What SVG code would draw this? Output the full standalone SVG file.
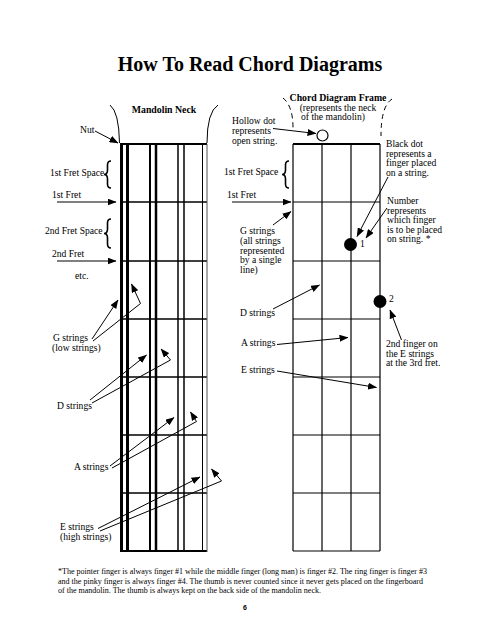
<svg xmlns="http://www.w3.org/2000/svg" width="489" height="631" viewBox="0 0 489 631">
<defs>
<marker id="ah" markerUnits="userSpaceOnUse" markerWidth="9" markerHeight="7" refX="8.5" refY="3.5" orient="auto">
<path d="M0,0 L9,3.5 L0,7 z" fill="#000"/>
</marker>
<style>
text{font-family:"Liberation Serif","Times New Roman",serif;fill:#000;}
.t{font-size:9.6px;}
.b{font-size:9.8px;font-weight:bold;}
.fn{font-size:7.6px;}
.ln{stroke:#000;fill:none;}
.fret{stroke:#000;stroke-width:1.5;}
.cf{stroke:#000;stroke-width:1.2;fill:none;}
.arr{stroke:#000;stroke-width:1;fill:none;marker-end:url(#ah);}
.brace{stroke:#000;stroke-width:1.6;fill:none;}
.dash{stroke:#000;stroke-width:1;fill:none;stroke-dasharray:5 4;}
</style>
</defs>
<rect width="489" height="631" fill="#fff"/>

<g id="title">
<text x="250" y="71" text-anchor="middle" style="font-size:20px;font-weight:bold">How To Read Chord Diagrams</text>
</g>

<g id="mandolin-neck">
<text class="b" x="164" y="113" text-anchor="middle">Mandolin Neck</text>
<path class="ln" d="M110,105 Q119,112 119.5,143" stroke-width="1"/>
<path class="ln" d="M218,105 Q207,112 207,143" stroke-width="1"/>
<line x1="120" y1="144" x2="207" y2="144" stroke="#000" stroke-width="2"/>
<g class="fret">
<line x1="120" y1="202" x2="207" y2="202"/>
<line x1="120" y1="261" x2="207" y2="261"/>
<line x1="120" y1="319" x2="207" y2="319"/>
<line x1="120" y1="377" x2="207" y2="377"/>
<line x1="120" y1="435" x2="207" y2="435"/>
<line x1="120" y1="493" x2="207" y2="493"/>
</g>
<line x1="120" y1="551" x2="207" y2="551" stroke="#000" stroke-width="2"/>
<line x1="121.5" y1="144" x2="121.5" y2="552" stroke="#000" stroke-width="3"/>
<line x1="127.5" y1="144" x2="127.5" y2="552" stroke="#000" stroke-width="3"/>
<line x1="150" y1="144" x2="150" y2="552" stroke="#000" stroke-width="2"/>
<line x1="156" y1="144" x2="156" y2="552" stroke="#000" stroke-width="2.5"/>
<line x1="178" y1="144" x2="178" y2="552" stroke="#000" stroke-width="1.5"/>
<line x1="184" y1="144" x2="184" y2="552" stroke="#000" stroke-width="1.5"/>
<line x1="202.5" y1="144" x2="202.5" y2="552" stroke="#000" stroke-width="1"/>
<line x1="207" y1="144" x2="207" y2="552" stroke="#555" stroke-width="1"/>
</g>

<g id="neck-labels">
<text class="t" x="80" y="133">Nut</text>
<text class="t" x="50" y="176">1st Fret Space</text>
<path class="brace" d="M111,161 Q107.5,161 107.5,165 L107.5,170 Q107.5,174.5 104,174.5 Q107.5,174.5 107.5,179 L107.5,184 Q107.5,188 111,188"/>
<text class="t" x="52" y="198">1st Fret</text>
<text class="t" x="45" y="234">2nd Fret Space</text>
<path class="brace" d="M111,219 Q107.5,219 107.5,223 L107.5,229 Q107.5,233.5 104,233.5 Q107.5,233.5 107.5,238 L107.5,244 Q107.5,248 111,248"/>
<text class="t" x="52" y="257">2nd Fret</text>
<text class="t" x="75" y="279">etc.</text>
<text class="t" x="53" y="341">G strings</text>
<text class="t" x="52" y="351">(low strings)</text>
<text class="t" x="57" y="409">D strings</text>
<text class="t" x="74" y="470">A strings</text>
<text class="t" x="60" y="530">E strings</text>
<text class="t" x="60" y="540">(high strings)</text>
</g>

<g id="chord-frame">
<text class="b" x="338" y="101" text-anchor="middle">Chord Diagram Frame</text>
<text class="t" x="338" y="110.5" text-anchor="middle">(represents the neck</text>
<text class="t" x="333" y="120" text-anchor="middle">of the mandolin)</text>
<path class="dash" d="M283,98 Q293,106 293,128"/>
<path class="dash" d="M392,99 Q381,106 381,136"/>
<line x1="293" y1="144" x2="380" y2="144" stroke="#000" stroke-width="1.8"/>
<g class="cf">
<line x1="293" y1="144" x2="293" y2="551"/>
<line x1="322" y1="144" x2="322" y2="551"/>
<line x1="351" y1="144" x2="351" y2="551"/>
<line x1="380" y1="144" x2="380" y2="551"/>
<line x1="293" y1="202" x2="380" y2="202"/>
<line x1="293" y1="261" x2="380" y2="261"/>
<line x1="293" y1="319" x2="380" y2="319"/>
<line x1="293" y1="377" x2="380" y2="377"/>
<line x1="293" y1="435" x2="380" y2="435"/>
<line x1="293" y1="493" x2="380" y2="493"/>
<line x1="293" y1="551" x2="380" y2="551"/>
</g>
<circle cx="322.5" cy="135.5" r="5.5" fill="#fff" stroke="#000" stroke-width="1.2"/>
<circle cx="350.5" cy="244.5" r="6.5" fill="#000"/>
<circle cx="380" cy="301.5" r="6.5" fill="#000"/>
<text class="t" x="360" y="247">1</text>
<text class="t" x="389" y="302">2</text>
</g>

<g id="chord-labels">
<text class="t" x="232" y="124">Hollow dot</text>
<text class="t" x="232" y="134">represents</text>
<text class="t" x="232" y="143.5">open string.</text>
<text class="t" x="386" y="147">Black dot</text>
<text class="t" x="386" y="156.5">represents a</text>
<text class="t" x="386" y="166">finger placed</text>
<text class="t" x="386" y="175.5">on a string.</text>
<text class="t" x="224" y="175">1st Fret Space</text>
<path class="brace" d="M289,161 Q285.5,161 285.5,165 L285.5,170 Q285.5,174.5 282,174.5 Q285.5,174.5 285.5,179 L285.5,184 Q285.5,188 289,188"/>
<text class="t" x="227" y="198">1st Fret</text>
<text class="t" x="387" y="204">Number</text>
<text class="t" x="387" y="213.5">represents</text>
<text class="t" x="387" y="223">which finger</text>
<text class="t" x="387" y="232.5">is to be placed</text>
<text class="t" x="387" y="242">on string. *</text>
<text class="t" x="240" y="233.5">G strings</text>
<text class="t" x="240" y="243.5">(all strings</text>
<text class="t" x="240" y="253.5">represented</text>
<text class="t" x="240" y="263">by a single</text>
<text class="t" x="240" y="272.5">line)</text>
<text class="t" x="240" y="316">D strings</text>
<text class="t" x="241" y="346">A strings</text>
<text class="t" x="241" y="373">E strings</text>
<text class="t" x="386" y="347">2nd finger on</text>
<text class="t" x="386" y="356.5">the E strings</text>
<text class="t" x="386" y="366">at the 3rd fret.</text>
</g>

<g id="connectors">
<line class="arr" x1="95" y1="131" x2="118" y2="143"/>
<line class="arr" x1="57" y1="202" x2="116" y2="202"/>
<line class="arr" x1="57" y1="261" x2="116" y2="261"/>
<line class="arr" x1="92" y1="339" x2="118" y2="300"/>
<polyline class="arr" points="93,341 140.5,303.5 131.5,284"/>
<line class="arr" x1="90" y1="400" x2="146.5" y2="355"/>
<polyline class="arr" points="92,403 170.5,360 161,349"/>
<line class="arr" x1="110" y1="466" x2="174" y2="417.5"/>
<polyline class="arr" points="112,468 196.5,421.5 190.5,412"/>
<line class="arr" x1="98" y1="528.5" x2="200" y2="477"/>
<polyline class="arr" points="100,531 221.5,481 211.5,469"/>
<line class="arr" x1="273" y1="128.5" x2="316" y2="133.5"/>
<line class="arr" x1="388" y1="177" x2="357" y2="236.5"/>
<line class="arr" x1="387" y1="208" x2="366" y2="238"/>
<line class="arr" x1="232" y1="202" x2="291" y2="202"/>
<line class="arr" x1="273" y1="225" x2="291" y2="211.5"/>
<line class="arr" x1="273" y1="309" x2="319.5" y2="285"/>
<line class="arr" x1="277" y1="344.5" x2="348" y2="337.5"/>
<line class="arr" x1="277" y1="371" x2="376.5" y2="387.5"/>
<line class="arr" x1="401.5" y1="340" x2="390" y2="310"/>
</g>

<g id="footnote">
<text class="fn" x="58" y="574" textLength="369" lengthAdjust="spacingAndGlyphs">*The pointer finger is always finger #1 while the middle finger (long man) is finger #2.  The ring finger is finger #3</text>
<text class="fn" x="58" y="583.7" textLength="365" lengthAdjust="spacingAndGlyphs">and the pinky finger is always finger #4.  The thumb is never counted since it never gets placed on the fingerboard</text>
<text class="fn" x="58" y="593.3" textLength="263" lengthAdjust="spacingAndGlyphs">of the mandolin.  The thumb is always kept on the back side of the mandolin neck.</text>
<text x="245" y="609.5" text-anchor="middle" style="font-family:'Liberation Sans',Arial,sans-serif;font-size:7px;font-weight:bold">6</text>
</g>
</svg>
